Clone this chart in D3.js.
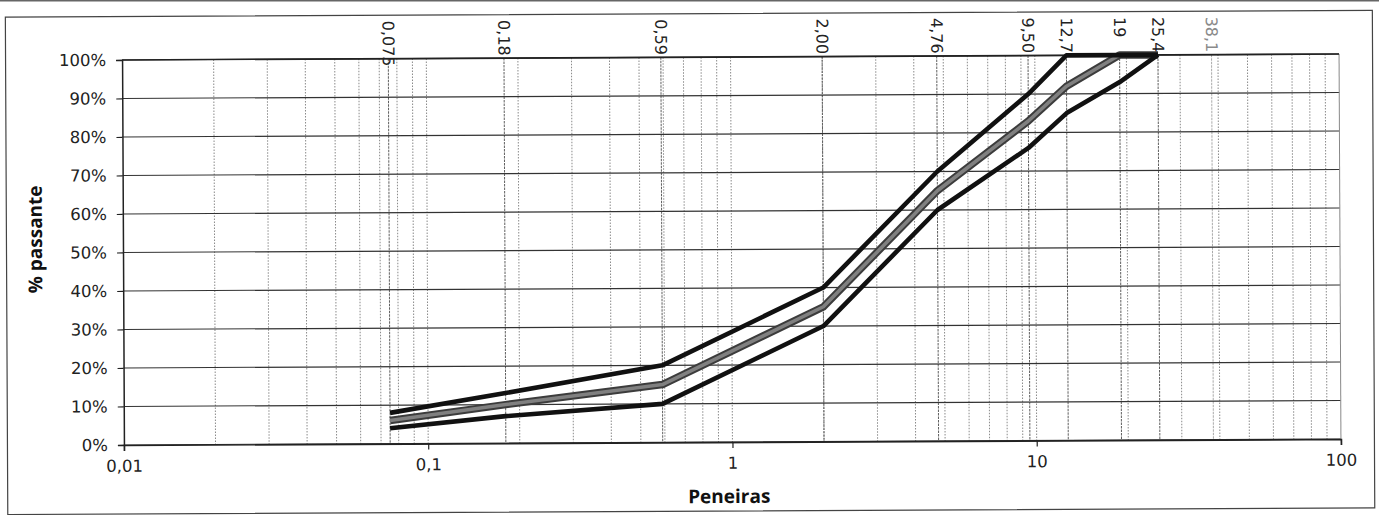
<!DOCTYPE html>
<html>
<head>
<meta charset="utf-8">
<script src="https://cdn.jsdelivr.net/npm/d3@7/dist/d3.min.js"></script>
<style>
  html, body { margin: 0; padding: 0; background: #ffffff; }
  svg { display: block; }
  .tick text { font-family: "DejaVu Sans", Verdana, sans-serif; font-size: 16.5px; fill: #222; }
</style>
</head>
<body>
<svg id="chart" width="1379" height="515"></svg>
<script>
// Sieve openings (mm) and their labels along the top edge
const sieveSizes  = [0.075, 0.18, 0.59, 2.00, 4.76, 9.50, 12.7, 19, 25.4, 38.1];
const sieveLabels = ["0,075", "0,18", "0,59", "2,00", "4,76", "9,50", "12,7", "19", "25,4", "38,1"];

// % passing for each sieve (null = no point)
const upperLimit   = [8, 13, 20, 40, 70, 90, 100, 100, 100, null];
const projectCurve = [6, 10, 15, 35, 65, 83, 92, 100, 100, null];
const lowerLimit   = [4, 7, 10, 30, 60, 76, 85, 93, 100, null];

// Axis ticks
const xTicks = [0.01, 0.1, 1, 10, 100];
const xTickLabels = ["0,01", "0,1", "1", "10", "100"];
const yTicks = [0, 10, 20, 30, 40, 50, 60, 70, 80, 90, 100];

const W = 1379, H = 515;
const plot = { left: 123, right: 1340, top: 57, bottom: 442 };

const svg = d3.select("#chart");

// thin dark edge along the very top of the sheet
svg.append("rect").attr("x", 0).attr("y", 0).attr("width", W).attr("height", 1.5).attr("fill", "#666");

// the whole sheet sits very slightly rotated
const g = svg.append("g").attr("transform", "rotate(-0.28, 731, 250)");

// outer frame
g.append("rect")
  .attr("x", 6.5).attr("y", 13.5).attr("width", 1367).attr("height", 497.5)
  .attr("fill", "none").attr("stroke", "#444").attr("stroke-width", 1.2);

const x = d3.scaleLog().domain([0.01, 100]).range([plot.left, plot.right]);
const y = d3.scaleLinear().domain([0, 100]).range([plot.bottom, plot.top]);

// minor log grid (2..9 of every decade, plus decades)
const minorVals = [];
[0.01, 0.1, 1, 10].forEach(d => { for (let k = 1; k <= 9; k++) if (!(d === 0.01 && k === 1)) minorVals.push(d * k); });
g.append("g").selectAll("line").data(minorVals).join("line")
  .attr("x1", d => x(d)).attr("x2", d => x(d))
  .attr("y1", plot.top).attr("y2", plot.bottom)
  .attr("stroke", "#8a8a8a").attr("stroke-width", 1)
  .attr("stroke-dasharray", "1.5,1.5");

// sieve grid lines
g.append("g").selectAll("line").data(sieveSizes).join("line")
  .attr("x1", d => x(d)).attr("x2", d => x(d))
  .attr("y1", plot.top).attr("y2", plot.bottom)
  .attr("stroke", (d, i) => i === sieveSizes.length - 1 ? "#aaa" : "#606060")
  .attr("stroke-width", 1)
  .attr("stroke-dasharray", "2.5,1");

// horizontal grid
g.append("g").selectAll("line").data(yTicks).join("line")
  .attr("x1", plot.left).attr("x2", plot.right)
  .attr("y1", d => y(d)).attr("y2", d => y(d))
  .attr("stroke", "#333").attr("stroke-width", 1.1);

// right edge of plot
g.append("line")
  .attr("x1", plot.right).attr("x2", plot.right)
  .attr("y1", plot.top).attr("y2", plot.bottom)
  .attr("stroke", "#888").attr("stroke-width", 1);

// y axis
const yAxis = g.append("g").attr("transform", `translate(${plot.left},0)`)
  .call(d3.axisLeft(y).tickValues(yTicks).tickSize(6).tickPadding(10).tickFormat(d => d + "%"));
yAxis.select(".domain").attr("stroke", "#222").attr("stroke-width", 1.5);
yAxis.selectAll(".tick line").attr("stroke", "#222").attr("stroke-width", 1.2);

// x axis
const xAxis = g.append("g").attr("transform", `translate(0,${plot.bottom})`)
  .call(d3.axisBottom(x).tickValues(xTicks).tickSize(6).tickPadding(9)
    .tickFormat((d, i) => xTickLabels[i]));
xAxis.select(".domain").attr("stroke", "#222").attr("stroke-width", 1.6);
xAxis.selectAll(".tick line").attr("stroke", "#222").attr("stroke-width", 1.2);

// top edge
g.append("line")
  .attr("x1", plot.left).attr("x2", plot.right)
  .attr("y1", plot.top).attr("y2", plot.top)
  .attr("stroke", "#222").attr("stroke-width", 1.6);

// curves
const line = d3.line()
  .defined(d => d[1] !== null)
  .x(d => x(d[0])).y(d => y(d[1]));
const pts = arr => sieveSizes.map((s, i) => [s, arr[i]]);

g.append("path").datum(pts(projectCurve)).attr("d", line)
  .attr("fill", "none").attr("stroke", "#3c3c3c").attr("stroke-width", 7.5)
  .attr("stroke-linejoin", "round");
g.append("path").datum(pts(projectCurve)).attr("d", line)
  .attr("fill", "none").attr("stroke", "#808080").attr("stroke-width", 3.5)
  .attr("stroke-linejoin", "round");

[upperLimit, lowerLimit].forEach(arr => {
  g.append("path").datum(pts(arr)).attr("d", line)
    .attr("fill", "none").attr("stroke", "#111").attr("stroke-width", 4.6)
    .attr("stroke-linejoin", "round");
});

// sieve labels above the plot, rotated
g.append("g").selectAll("text").data(sieveSizes).join("text")
  .attr("x", d => x(d)).attr("y", 19)
  .attr("transform", d => `rotate(90, ${x(d)}, 19)`)
  .attr("text-anchor", "start")
  .attr("dominant-baseline", "central")
  .attr("font-family", "DejaVu Sans, Verdana, sans-serif")
  .attr("font-size", 16)
  .attr("fill", (d, i) => i === sieveSizes.length - 1 ? "#8a8a8a" : "#222")
  .text((d, i) => sieveLabels[i]);

// axis titles
g.append("text")
  .attr("transform", "translate(42,236) rotate(-90)")
  .attr("text-anchor", "middle")
  .attr("font-family", "Open Sans, sans-serif").attr("font-weight", 700)
  .attr("font-size", 19).attr("fill", "#111")
  .text("% passante");

g.append("text")
  .attr("x", 728).attr("y", 503)
  .attr("text-anchor", "middle")
  .attr("font-family", "Open Sans, sans-serif").attr("font-weight", 700)
  .attr("font-size", 19).attr("fill", "#111")
  .text("Peneiras");
</script>
</body>
</html>
